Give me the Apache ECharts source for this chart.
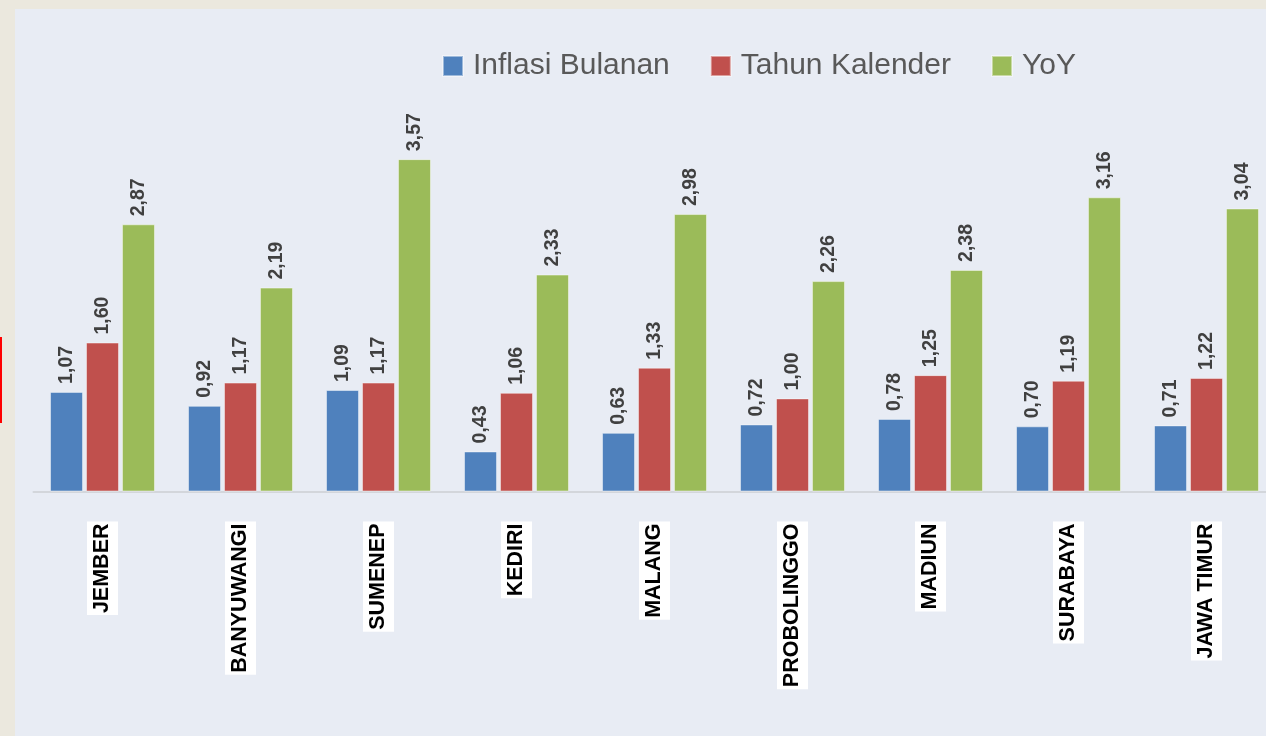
<!DOCTYPE html>
<html>
<head>
<meta charset="utf-8">
<script src="https://cdn.jsdelivr.net/npm/echarts@6/dist/echarts.min.js"></script>
<style>
html,body{margin:0;padding:0;background:#EBE8DE;overflow:hidden;}
#c{width:1280px;height:736px;}
</style>
</head>
<body>
<div id="c"></div>
<script>
var categories = ['JEMBER','BANYUWANGI','SUMENEP','KEDIRI','MALANG','PROBOLINGGO','MADIUN','SURABAYA','JAWA TIMUR'];
var inflasiBulanan = [1.07, 0.92, 1.09, 0.43, 0.63, 0.72, 0.78, 0.70, 0.71];
var tahunKalender = [1.60, 1.17, 1.17, 1.06, 1.33, 1.00, 1.25, 1.19, 1.22];
var yoy = [2.87, 2.19, 3.57, 2.33, 2.98, 2.26, 2.38, 3.16, 3.04];

var FONT = "'Liberation Sans Narrow','Arial Narrow','Liberation Sans',Arial,sans-serif";
var chart = echarts.init(document.getElementById('c'));
function fmt(p){ return p.value.toFixed(2).replace('.', ','); }
var labelCfg = {
  show: true, position: 'top', rotate: 90, align: 'left', verticalAlign: 'middle',
  distance: 8, formatter: fmt, color: '#404040', fontFamily: FONT,
  fontWeight: 'bold', fontSize: 19.5
};
function ser(name, data, color){
  return {
    name: name, type: 'bar', data: data, barWidth: 33, barGap: '9%',
    itemStyle: {color: color, borderColor: 'rgba(255,255,255,0.45)', borderWidth: 1},
    label: labelCfg
  };
}
chart.setOption({
  backgroundColor: '#EBE8DE',
  animation: false,
  graphic: [
    {type: 'rect', z: -10, shape: {x: 15, y: 9, width: 1265, height: 727}, style: {fill: '#E8ECF4'}},
    {type: 'rect', z: -10, shape: {x: 0, y: 337, width: 2, height: 86}, style: {fill: '#FF0000'}}
  ],
  legend: {
    top: 46, left: 437, itemWidth: 20, itemHeight: 20, itemGap: 40,
    icon: 'rect',
    textStyle: {fontFamily: FONT, fontSize: 30, color: '#595959', padding: [0,0,0,5]},
    data: ['Inflasi Bulanan', 'Tahun Kalender', 'YoY']
  },
  grid: {left: 33.5, width: 1242, top: 119.1, bottom: 244.5, containLabel: false},
  xAxis: {
    type: 'category', data: categories,
    axisLine: {lineStyle: {color: '#D3D6DB', width: 2}},
    axisTick: {show: false},
    axisLabel: {
      rotate: 90, margin: 30, interval: 0, color: '#000000',
      fontFamily: FONT, fontWeight: 'bold', fontSize: 21.5,
      backgroundColor: '#FFFFFF', padding: [2, 2, 2, 2], lineHeight: 27
    }
  },
  yAxis: {type: 'value', min: 0, max: 4, show: false, splitLine: {show: false}},
  series: [
    ser('Inflasi Bulanan', inflasiBulanan, '#4F81BD'),
    ser('Tahun Kalender', tahunKalender, '#C0504D'),
    ser('YoY', yoy, '#9BBB59')
  ]
});
</script>
</body>
</html>
